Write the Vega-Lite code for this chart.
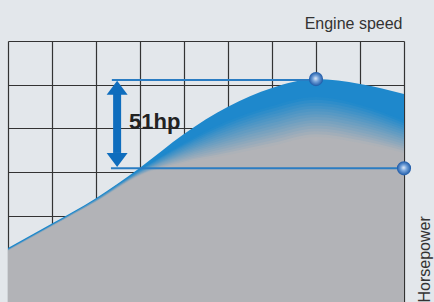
{
  "$schema": "https://vega.github.io/schema/vega-lite/v6.json",
  "autosize": "none",
  "width": 396,
  "height": 262,
  "padding": {"left": 8, "top": 41, "right": 30, "bottom": 0},
  "background": "#e3e7eb",
  "config": {"view": {"stroke": null}},
  "datasets": {
    "curve": [
      {"band": "b01", "rpm": 0, "hp": 31.5}, {"band": "b01", "rpm": 1, "hp": 45.5}, {"band": "b01", "rpm": 2, "hp": 60.0}, {"band": "b01", "rpm": 3, "hp": 77.5}, {"band": "b01", "rpm": 4, "hp": 96.8}, {"band": "b01", "rpm": 5, "hp": 112.3}, {"band": "b01", "rpm": 6, "hp": 123.1}, {"band": "b01", "rpm": 7, "hp": 128.2}, {"band": "b01", "rpm": 8, "hp": 125.4}, {"band": "b01", "rpm": 9, "hp": 119.7},
      {"band": "b02", "rpm": 0, "hp": 30.9}, {"band": "b02", "rpm": 1, "hp": 44.9}, {"band": "b02", "rpm": 2, "hp": 59.5}, {"band": "b02", "rpm": 3, "hp": 76.3}, {"band": "b02", "rpm": 4, "hp": 91.6}, {"band": "b02", "rpm": 5, "hp": 104.2}, {"band": "b02", "rpm": 6, "hp": 112.8}, {"band": "b02", "rpm": 7, "hp": 117.9}, {"band": "b02", "rpm": 8, "hp": 113.4}, {"band": "b02", "rpm": 9, "hp": 104.2},
      {"band": "b03", "rpm": 0, "hp": 30.8}, {"band": "b03", "rpm": 1, "hp": 44.8}, {"band": "b03", "rpm": 2, "hp": 59.4}, {"band": "b03", "rpm": 3, "hp": 76.1}, {"band": "b03", "rpm": 4, "hp": 90.8}, {"band": "b03", "rpm": 5, "hp": 102.8}, {"band": "b03", "rpm": 6, "hp": 111.2}, {"band": "b03", "rpm": 7, "hp": 116.3}, {"band": "b03", "rpm": 8, "hp": 111.9}, {"band": "b03", "rpm": 9, "hp": 102.9},
      {"band": "b04", "rpm": 0, "hp": 30.7}, {"band": "b04", "rpm": 1, "hp": 44.7}, {"band": "b04", "rpm": 2, "hp": 59.3}, {"band": "b04", "rpm": 3, "hp": 75.8}, {"band": "b04", "rpm": 4, "hp": 90.0}, {"band": "b04", "rpm": 5, "hp": 101.4}, {"band": "b04", "rpm": 6, "hp": 109.5}, {"band": "b04", "rpm": 7, "hp": 114.6}, {"band": "b04", "rpm": 8, "hp": 110.3}, {"band": "b04", "rpm": 9, "hp": 101.6},
      {"band": "b05", "rpm": 0, "hp": 30.65}, {"band": "b05", "rpm": 1, "hp": 44.65}, {"band": "b05", "rpm": 2, "hp": 59.15}, {"band": "b05", "rpm": 3, "hp": 75.55}, {"band": "b05", "rpm": 4, "hp": 89.2}, {"band": "b05", "rpm": 5, "hp": 100.0}, {"band": "b05", "rpm": 6, "hp": 107.9}, {"band": "b05", "rpm": 7, "hp": 113.0}, {"band": "b05", "rpm": 8, "hp": 108.8}, {"band": "b05", "rpm": 9, "hp": 100.3},
      {"band": "b06", "rpm": 0, "hp": 30.6}, {"band": "b06", "rpm": 1, "hp": 44.6}, {"band": "b06", "rpm": 2, "hp": 59.0}, {"band": "b06", "rpm": 3, "hp": 75.3}, {"band": "b06", "rpm": 4, "hp": 88.3}, {"band": "b06", "rpm": 5, "hp": 98.6}, {"band": "b06", "rpm": 6, "hp": 106.3}, {"band": "b06", "rpm": 7, "hp": 111.4}, {"band": "b06", "rpm": 8, "hp": 107.2}, {"band": "b06", "rpm": 9, "hp": 99.0},
      {"band": "b07", "rpm": 0, "hp": 30.5}, {"band": "b07", "rpm": 1, "hp": 44.5}, {"band": "b07", "rpm": 2, "hp": 58.9}, {"band": "b07", "rpm": 3, "hp": 75.05}, {"band": "b07", "rpm": 4, "hp": 87.5}, {"band": "b07", "rpm": 5, "hp": 97.2}, {"band": "b07", "rpm": 6, "hp": 104.7}, {"band": "b07", "rpm": 7, "hp": 109.8}, {"band": "b07", "rpm": 8, "hp": 105.7}, {"band": "b07", "rpm": 9, "hp": 97.7},
      {"band": "b08", "rpm": 0, "hp": 30.4}, {"band": "b08", "rpm": 1, "hp": 44.4}, {"band": "b08", "rpm": 2, "hp": 58.8}, {"band": "b08", "rpm": 3, "hp": 74.8}, {"band": "b08", "rpm": 4, "hp": 86.7}, {"band": "b08", "rpm": 5, "hp": 95.8}, {"band": "b08", "rpm": 6, "hp": 103.0}, {"band": "b08", "rpm": 7, "hp": 108.1}, {"band": "b08", "rpm": 8, "hp": 104.1}, {"band": "b08", "rpm": 9, "hp": 96.4},
      {"band": "b09", "rpm": 0, "hp": 30.35}, {"band": "b09", "rpm": 1, "hp": 44.35}, {"band": "b09", "rpm": 2, "hp": 58.65}, {"band": "b09", "rpm": 3, "hp": 74.6}, {"band": "b09", "rpm": 4, "hp": 85.9}, {"band": "b09", "rpm": 5, "hp": 94.45}, {"band": "b09", "rpm": 6, "hp": 101.35}, {"band": "b09", "rpm": 7, "hp": 106.45}, {"band": "b09", "rpm": 8, "hp": 102.55}, {"band": "b09", "rpm": 9, "hp": 95.1},
      {"band": "b10", "rpm": 0, "hp": 30.3}, {"band": "b10", "rpm": 1, "hp": 44.3}, {"band": "b10", "rpm": 2, "hp": 58.5}, {"band": "b10", "rpm": 3, "hp": 74.4}, {"band": "b10", "rpm": 4, "hp": 85.1}, {"band": "b10", "rpm": 5, "hp": 93.1}, {"band": "b10", "rpm": 6, "hp": 99.7}, {"band": "b10", "rpm": 7, "hp": 104.8}, {"band": "b10", "rpm": 8, "hp": 101.0}, {"band": "b10", "rpm": 9, "hp": 93.8},
      {"band": "b11", "rpm": 0, "hp": 30.2}, {"band": "b11", "rpm": 1, "hp": 44.2}, {"band": "b11", "rpm": 2, "hp": 58.4}, {"band": "b11", "rpm": 3, "hp": 74.15}, {"band": "b11", "rpm": 4, "hp": 84.3}, {"band": "b11", "rpm": 5, "hp": 91.7}, {"band": "b11", "rpm": 6, "hp": 98.1}, {"band": "b11", "rpm": 7, "hp": 103.2}, {"band": "b11", "rpm": 8, "hp": 99.4}, {"band": "b11", "rpm": 9, "hp": 92.45},
      {"band": "b12", "rpm": 0, "hp": 30.1}, {"band": "b12", "rpm": 1, "hp": 44.1}, {"band": "b12", "rpm": 2, "hp": 58.3}, {"band": "b12", "rpm": 3, "hp": 73.9}, {"band": "b12", "rpm": 4, "hp": 83.5}, {"band": "b12", "rpm": 5, "hp": 90.3}, {"band": "b12", "rpm": 6, "hp": 96.5}, {"band": "b12", "rpm": 7, "hp": 101.6}, {"band": "b12", "rpm": 8, "hp": 97.8}, {"band": "b12", "rpm": 9, "hp": 91.1},
      {"band": "b13", "rpm": 0, "hp": 30.05}, {"band": "b13", "rpm": 1, "hp": 44.05}, {"band": "b13", "rpm": 2, "hp": 58.15}, {"band": "b13", "rpm": 3, "hp": 73.65}, {"band": "b13", "rpm": 4, "hp": 82.65}, {"band": "b13", "rpm": 5, "hp": 88.9}, {"band": "b13", "rpm": 6, "hp": 94.85}, {"band": "b13", "rpm": 7, "hp": 99.95}, {"band": "b13", "rpm": 8, "hp": 96.25}, {"band": "b13", "rpm": 9, "hp": 89.8},
      {"band": "b14", "rpm": 0, "hp": 30.0}, {"band": "b14", "rpm": 1, "hp": 44.0}, {"band": "b14", "rpm": 2, "hp": 58.0}, {"band": "b14", "rpm": 3, "hp": 73.4}, {"band": "b14", "rpm": 4, "hp": 81.8}, {"band": "b14", "rpm": 5, "hp": 87.5}, {"band": "b14", "rpm": 6, "hp": 93.2}, {"band": "b14", "rpm": 7, "hp": 98.3}, {"band": "b14", "rpm": 8, "hp": 94.7}, {"band": "b14", "rpm": 9, "hp": 88.5},
      {"band": "b15", "rpm": 0, "hp": 29.9}, {"band": "b15", "rpm": 1, "hp": 43.9}, {"band": "b15", "rpm": 2, "hp": 57.9}, {"band": "b15", "rpm": 3, "hp": 73.15}, {"band": "b15", "rpm": 4, "hp": 81.0}, {"band": "b15", "rpm": 5, "hp": 86.1}, {"band": "b15", "rpm": 6, "hp": 91.55}, {"band": "b15", "rpm": 7, "hp": 96.65}, {"band": "b15", "rpm": 8, "hp": 93.15}, {"band": "b15", "rpm": 9, "hp": 87.2},
      {"band": "b16", "rpm": 0, "hp": 29.8}, {"band": "b16", "rpm": 1, "hp": 43.8}, {"band": "b16", "rpm": 2, "hp": 57.8}, {"band": "b16", "rpm": 3, "hp": 72.9}, {"band": "b16", "rpm": 4, "hp": 80.2}, {"band": "b16", "rpm": 5, "hp": 84.7}, {"band": "b16", "rpm": 6, "hp": 89.9}, {"band": "b16", "rpm": 7, "hp": 95.0}, {"band": "b16", "rpm": 8, "hp": 91.6}, {"band": "b16", "rpm": 9, "hp": 85.9}
    ],
    "levels": [
      {"from": 2.36, "to": 7, "hp": 127.7},
      {"from": 2.34, "to": 9, "hp": 77.1}
    ],
    "shaft": [{"rpm": 2.48, "top": 119.7, "bottom": 85.9}],
    "heads": [
      {"rpm": 2.48, "hp": 123.3, "dir": "up"},
      {"rpm": 2.48, "hp": 81.9, "dir": "down"}
    ],
    "gain": [{"rpm": 2.75, "hp": 99.6, "label": "51hp"}],
    "peaks": [{"rpm": 7, "hp": 128.2}, {"rpm": 9, "hp": 77.1}]
  },
  "layer": [
    {
      "data": {"name": "curve"},
      "mark": {"type": "area", "interpolate": "monotone"},
      "encoding": {
        "x": {
          "field": "rpm", "type": "quantitative",
          "scale": {"domain": [0, 9], "nice": false, "zero": false},
          "axis": {
            "orient": "top", "values": [0, 1, 2, 3, 4, 5, 6, 7, 8, 9],
            "grid": true, "gridColor": "#333333", "gridWidth": 1.2, "gridOpacity": 1,
            "labels": false, "ticks": false, "domain": false,
            "title": "Engine speed", "titleX": 394, "titleY": -13,
            "titleAlign": "right", "titleBaseline": "alphabetic", "titleAngle": 0,
            "titleFont": "Liberation Sans", "titleFontSize": 16, "titleFontWeight": "normal", "titleColor": "#333333"
          }
        },
        "y": {
          "field": "hp", "type": "quantitative", "stack": null,
          "scale": {"domain": [0, 150], "nice": false},
          "axis": {
            "orient": "right", "values": [0, 25, 50, 75, 100, 125, 150],
            "grid": true, "gridColor": "#333333", "gridWidth": 1.2, "gridOpacity": 1,
            "labels": false, "ticks": false, "domain": false,
            "title": "Horsepower", "titleX": 25, "titleY": 261, "titleAngle": 270,
            "titleAlign": "left", "titleBaseline": "alphabetic",
            "titleFont": "Liberation Sans", "titleFontSize": 16, "titleFontWeight": "normal", "titleColor": "#333333"
          }
        },
        "color": {
          "field": "band", "type": "nominal", "legend": null,
          "scale": {
            "domain": ["b01", "b02", "b03", "b04", "b05", "b06", "b07", "b08", "b09", "b10", "b11", "b12", "b13", "b14", "b15", "b16"],
            "range": ["#1e88cc", "#238acb", "#2e8dca", "#3990c8", "#4393c7", "#4e96c5", "#5899c4", "#639cc2", "#6d9fc1", "#78a2bf", "#82a5be", "#8da8bc", "#98abbb", "#a2aeb9", "#adb2b8", "#b2b3b7"]
          }
        }
      }
    },
    {
      "data": {"name": "levels"},
      "mark": {"type": "rule", "color": "#2a7cc2", "strokeWidth": 2},
      "encoding": {
        "x": {"field": "from", "type": "quantitative"},
        "x2": {"field": "to"},
        "y": {"field": "hp", "type": "quantitative"}
      }
    },
    {
      "data": {"name": "shaft"},
      "mark": {"type": "rule", "color": "#0f6dbd", "strokeWidth": 8},
      "encoding": {
        "x": {"field": "rpm", "type": "quantitative"},
        "y": {"field": "top", "type": "quantitative"},
        "y2": {"field": "bottom"}
      }
    },
    {
      "data": {"name": "heads"},
      "mark": {"type": "point", "filled": true, "color": "#0f6dbd", "opacity": 1, "size": 441},
      "encoding": {
        "x": {"field": "rpm", "type": "quantitative"},
        "y": {"field": "hp", "type": "quantitative"},
        "shape": {
          "field": "dir", "type": "nominal", "legend": null,
          "scale": {"domain": ["up", "down"], "range": ["M0,-0.667L1,0.667L-1,0.667Z", "M0,0.667L1,-0.667L-1,-0.667Z"]}
        }
      }
    },
    {
      "data": {"name": "gain"},
      "mark": {"type": "text", "align": "left", "baseline": "alphabetic", "font": "Liberation Sans", "fontSize": 22, "fontWeight": "bold", "color": "#222222"},
      "encoding": {
        "x": {"field": "rpm", "type": "quantitative"},
        "y": {"field": "hp", "type": "quantitative"},
        "text": {"field": "label"}
      }
    },
    {
      "data": {"name": "peaks"},
      "mark": {
        "type": "circle", "size": 200, "opacity": 1,
        "fill": {
          "gradient": "radial", "x1": 0.47, "y1": 0.45, "r1": 0, "x2": 0.5, "y2": 0.5, "r2": 0.5,
          "stops": [
            {"offset": 0, "color": "#e6eef8"},
            {"offset": 0.4, "color": "#7aa6dc"},
            {"offset": 1, "color": "#1b58a6"}
          ]
        }
      },
      "encoding": {
        "x": {"field": "rpm", "type": "quantitative"},
        "y": {"field": "hp", "type": "quantitative"}
      }
    }
  ]
}
